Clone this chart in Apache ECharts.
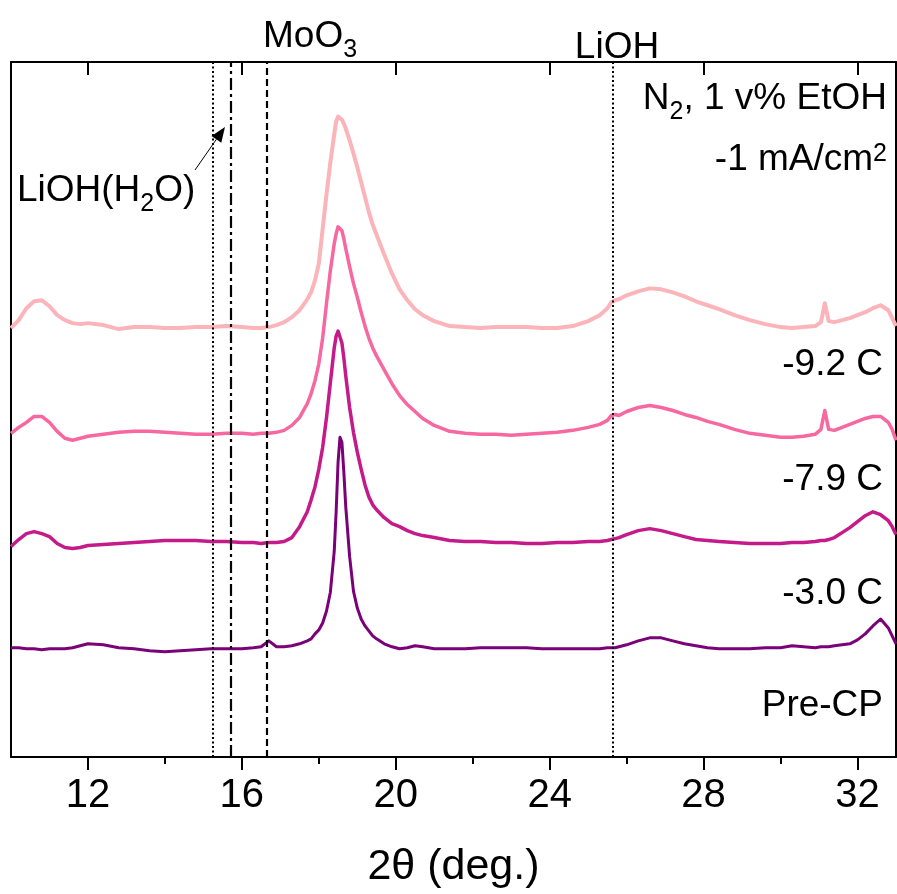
<!DOCTYPE html>
<html>
<head>
<meta charset="utf-8">
<script src="https://cdn.jsdelivr.net/npm/echarts@6/dist/echarts.min.js"></script>
<style>
html,body{margin:0;padding:0;background:#fff;}
#chart{width:897px;height:894px;}
</style>
</head>
<body>
<div id="chart"></div>
<script>
// 2θ sampling positions (deg.)
const twoTheta = [
  10.0,10.2,10.4,10.6,10.8,11.0,11.2,11.4,11.6,11.8,
  12.0,12.4,12.8,13.2,13.6,14.0,14.4,14.8,15.2,15.6,
  16.0,16.3,16.5,16.7,16.9,17.1,17.3,17.5,17.7,17.8,
  17.9,18.0,18.1,18.2,18.3,18.4,18.45,18.5,18.55,18.6,
  18.65,18.7,18.8,18.9,19.0,19.1,19.2,19.3,19.4,19.5,
  19.7,19.9,20.1,20.3,20.5,20.7,21.0,21.4,21.8,22.2,
  22.6,23.0,23.4,23.8,24.2,24.6,25.0,25.3,25.5,25.6,
  25.7,25.8,26.0,26.3,26.6,26.9,27.2,27.5,27.8,28.1,
  28.4,28.8,29.2,29.6,30.0,30.3,30.6,30.9,31.05,31.15,
  31.25,31.4,31.6,31.8,32.0,32.2,32.4,32.6,32.8,32.9,
  33.0
];
// intensities (a.u.)
const preCP = [
  10,10,9,9,8,9,9,9,10,12,
  14,13,10,9,7,6,7,8,9,9,
  9,10,11,17,11,11,12,14,17,19,
  24,28,35,47,66,107,147,197,222,217,
  187,152,102,67,50,39,32,27,22,19,
  14,11,9,10,12,11,9,9,9,10,
  10,10,10,9,9,9,9,9,10,10,
  10,11,13,17,20,20,17,14,12,10,
  9,9,9,10,10,12,11,10,11,11,
  11,12,13,14,18,24,32,39,30,22,
  14
];
const c30 = [
  12,19,25,27,25,22,15,11,10,11,
  13,14,15,16,17,18,18,18,17,17,
  16,16,15,16,16,17,21,32,47,59,
  72,90,112,142,177,212,224,229,227,217,
  202,184,152,127,107,90,74,62,54,49,
  41,35,32,28,25,23,21,18,17,17,
  16,16,15,15,16,16,17,17,18,19,
  20,21,24,28,30,28,25,22,19,18,
  17,16,15,15,15,16,16,17,18,18,
  19,21,26,31,37,43,47,44,38,32,
  24
];
const c79 = [
  16,22,27,33,33,27,18,11,9,11,
  13,15,17,18,18,17,16,15,15,16,
  16,15,16,16,17,19,24,32,46,56,
  69,86,112,147,180,207,217,224,225,220,
  212,202,184,167,153,138,124,112,102,94,
  80,66,54,45,38,31,24,18,16,15,
  15,14,15,16,17,19,22,25,29,34,
  35,34,38,42,44,42,39,35,32,28,
  25,20,16,14,12,12,13,15,20,39,
  20,19,22,25,28,31,33,33,27,20,
  9
];
const c92 = [
  12,20,32,39,40,34,25,20,17,16,
  17,15,11,13,13,12,12,13,13,14,
  13,12,12,13,15,18,23,30,41,48,
  60,77,112,147,179,207,220,225,224,222,
  218,213,201,188,174,159,144,129,116,106,
  86,67,51,40,31,25,19,14,13,12,
  13,13,13,12,12,14,19,25,32,38,
  40,41,45,49,52,51,48,44,39,35,
  31,25,20,16,13,12,13,14,18,37,
  19,18,20,22,25,28,32,35,30,22,
  14
];
const seriesNames = ['Pre-CP', '-3.0 C', '-7.9 C', '-9.2 C'];
const seriesValues = [preCP, c30, c79, c92];
const stackOffsets = [100, 200, 310, 420];
const majorTicks = [12, 16, 20, 24, 28, 32];
const minorTicks = [14, 18, 22, 26, 30];
const refLinePos = [15.24, 15.71, 16.65, 25.65]; // LiOH(H2O), LiOH(H2O), MoO3, LiOH

const colors = ['#7a0177', '#c51b8a', '#f768a1', '#fbb4b9'];
const widths = [3, 3.5, 3.5, 4];
const FONT = 'Liberation Sans, Arial, sans-serif';
const refStyles = [
  {type: [2, 2.5], width: 2},
  {type: [12, 4, 3, 4], width: 2.2},
  {type: [7, 4], width: 2.2},
  {type: [2, 2.5], width: 2}
];

const chart = echarts.init(document.getElementById('chart'), null, {renderer: 'canvas'});

const series = seriesValues.map((vals, k) => ({
  name: seriesNames[k],
  type: 'line',
  xAxisIndex: 0,
  yAxisIndex: 0,
  showSymbol: false,
  symbol: 'none',
  animation: false,
  z: 2 + k,
  lineStyle: {color: colors[k], width: widths[k], join: 'round'},
  data: twoTheta.map((x, i) => [x, vals[i] + stackOffsets[k]])
}));
series[0].markLine = {
  silent: true,
  symbol: 'none',
  animation: false,
  z: 10,
  label: {show: false},
  data: refLinePos.map((x, i) => ({
    xAxis: x,
    lineStyle: {color: '#000', width: refStyles[i].width, type: refStyles[i].type}
  }))
};

const axisLineStyle = {color: '#000', width: 2};
const txt = (x, y, text, align, rich) => ({
  type: 'text',
  z: 100,
  style: {
    text: text, x: x, y: y, fill: '#000',
    fontSize: 37, fontFamily: FONT,
    align: align, verticalAlign: 'middle',
    rich: rich || {}
  }
});
const subRich = {
  m: {fontSize: 37, fontFamily: FONT, fill: '#000', padding: [0, 0, 7, 0]},
  s: {fontSize: 25, fontFamily: FONT, verticalAlign: 'bottom', fill: '#000'}
};
const supRich = {p: {fontSize: 25, fontFamily: FONT, verticalAlign: 'top', fill: '#000'}};

chart.setOption({
  animation: false,
  backgroundColor: '#fff',
  grid: {left: 11, right: 1, top: 62, bottom: 132, containLabel: false},
  xAxis: [
    {
      type: 'value', min: 10, max: 33, position: 'bottom',
      axisLine: {show: true, onZero: false, lineStyle: axisLineStyle},
      axisTick: {show: true, length: 13, lineStyle: axisLineStyle, customValues: majorTicks},
      axisLabel: {show: true, customValues: majorTicks, fontSize: 40, fontFamily: FONT, color: '#000', margin: 19},
      splitLine: {show: false},
      name: '2θ (deg.)', nameLocation: 'middle', nameGap: 89,
      nameTextStyle: {fontSize: 43, fontFamily: FONT, color: '#000'}
    },
    {
      type: 'value', min: 10, max: 33, position: 'bottom',
      axisLine: {show: false, onZero: false},
      axisTick: {show: true, length: 7, lineStyle: axisLineStyle, customValues: minorTicks},
      axisLabel: {show: false},
      splitLine: {show: false}
    },
    {
      type: 'value', min: 10, max: 33, position: 'top',
      axisLine: {show: true, onZero: false, lineStyle: axisLineStyle},
      axisTick: {show: true, inside: true, length: 13, lineStyle: axisLineStyle, customValues: majorTicks},
      axisLabel: {show: false},
      splitLine: {show: false}
    }
  ],
  yAxis: [
    {
      type: 'value', min: 0, max: 700, position: 'left',
      axisLine: {show: true, onZero: false, lineStyle: axisLineStyle},
      axisTick: {show: false}, axisLabel: {show: false}, splitLine: {show: false}
    },
    {
      type: 'value', min: 0, max: 700, position: 'right',
      axisLine: {show: true, onZero: false, lineStyle: axisLineStyle},
      axisTick: {show: false}, axisLabel: {show: false}, splitLine: {show: false}
    }
  ],
  series: series,
  graphic: [
    txt(263, 40.5, '{m|MoO}{s|3}', 'left', subRich),
    txt(617, 48, 'LiOH', 'center'),
    txt(17, 194.5, '{m|LiOH(H}{s|2}{m|O)}', 'left', subRich),
    txt(887, 102.5, '{m|N}{s|2}{m|, 1 v% EtOH}', 'right', subRich),
    txt(887, 160, '-1 mA/cm{p|2}', 'right', supRich),
    txt(883, 365, seriesNames[3], 'right'),
    txt(883, 480, seriesNames[2], 'right'),
    txt(883, 594, seriesNames[1], 'right'),
    txt(883, 706, seriesNames[0], 'right'),
    {
      type: 'line', z: 100,
      shape: {x1: 195, y1: 170, x2: 216.4, y2: 139.3},
      style: {stroke: '#000', lineWidth: 1}
    },
    {
      type: 'polygon', z: 100,
      shape: {points: [[225, 127], [221.3, 142.7], [211.5, 135.9]]},
      style: {fill: '#000'}
    }
  ]
});
</script>
</body>
</html>
